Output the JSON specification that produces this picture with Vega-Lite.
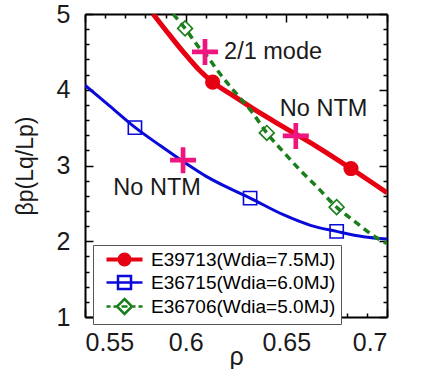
{
  "$schema": "https://vega.github.io/schema/vega-lite/v6.json",
  "width": 302,
  "height": 303,
  "autosize": {"type": "none"},
  "padding": {"left": 85, "top": 14, "right": 35, "bottom": 52},
  "background": "white",
  "config": {
    "view": {"stroke": null},
    "font": "Liberation Sans",
    "axis": {"grid": false, "domainColor": "black", "domainWidth": 2, "tickColor": "black", "tickWidth": 1.5, "labelFont": "Liberation Sans", "labelColor": "#1a1a1a", "titleFont": "Liberation Sans", "titleColor": "#1a1a1a", "titleFontWeight": "normal"},
    "legend": {
      "orient": "none", "legendX": 8, "legendY": 231, "title": null, "direction": "vertical",
      "padding": 5, "strokeColor": "#555", "fillColor": "white",
      "labelFont": "Liberation Sans", "labelFontSize": 19, "labelLimit": 400, "labelOffset": 17, "symbolOffset": 17,
      "symbolSize": 100, "symbolOpacity": 1, "symbolStrokeWidth": 2.5, "rowPadding": 0
    }
  },
  "datasets": {
    "curves": [
      {"series": "E39713(Wdia=7.5MJ)", "rho": 0.5838, "beta": 5.0},
      {"series": "E39713(Wdia=7.5MJ)", "rho": 0.5906, "beta": 4.77},
      {"series": "E39713(Wdia=7.5MJ)", "rho": 0.5988, "beta": 4.50},
      {"series": "E39713(Wdia=7.5MJ)", "rho": 0.6071, "beta": 4.25},
      {"series": "E39713(Wdia=7.5MJ)", "rho": 0.6134, "beta": 4.10},
      {"series": "E39713(Wdia=7.5MJ)", "rho": 0.6237, "beta": 3.92},
      {"series": "E39713(Wdia=7.5MJ)", "rho": 0.6353, "beta": 3.72},
      {"series": "E39713(Wdia=7.5MJ)", "rho": 0.6485, "beta": 3.51},
      {"series": "E39713(Wdia=7.5MJ)", "rho": 0.6651, "beta": 3.25},
      {"series": "E39713(Wdia=7.5MJ)", "rho": 0.6821, "beta": 2.96},
      {"series": "E39713(Wdia=7.5MJ)", "rho": 0.70, "beta": 2.64},
      {"series": "E36715(Wdia=6.0MJ)", "rho": 0.55, "beta": 4.06},
      {"series": "E36715(Wdia=6.0MJ)", "rho": 0.5625, "beta": 3.78},
      {"series": "E36715(Wdia=6.0MJ)", "rho": 0.575, "beta": 3.50},
      {"series": "E36715(Wdia=6.0MJ)", "rho": 0.5875, "beta": 3.26},
      {"series": "E36715(Wdia=6.0MJ)", "rho": 0.60, "beta": 3.03},
      {"series": "E36715(Wdia=6.0MJ)", "rho": 0.61, "beta": 2.86},
      {"series": "E36715(Wdia=6.0MJ)", "rho": 0.62, "beta": 2.72},
      {"series": "E36715(Wdia=6.0MJ)", "rho": 0.632, "beta": 2.57},
      {"series": "E36715(Wdia=6.0MJ)", "rho": 0.6485, "beta": 2.35},
      {"series": "E36715(Wdia=6.0MJ)", "rho": 0.662, "beta": 2.21},
      {"series": "E36715(Wdia=6.0MJ)", "rho": 0.675, "beta": 2.13},
      {"series": "E36715(Wdia=6.0MJ)", "rho": 0.6883, "beta": 2.06},
      {"series": "E36715(Wdia=6.0MJ)", "rho": 0.70, "beta": 2.03},
      {"series": "E36706(Wdia=5.0MJ)", "rho": 0.5938, "beta": 5.0},
      {"series": "E36706(Wdia=5.0MJ)", "rho": 0.5997, "beta": 4.81},
      {"series": "E36706(Wdia=5.0MJ)", "rho": 0.6063, "beta": 4.57},
      {"series": "E36706(Wdia=5.0MJ)", "rho": 0.6113, "beta": 4.42},
      {"series": "E36706(Wdia=5.0MJ)", "rho": 0.6162, "beta": 4.24},
      {"series": "E36706(Wdia=5.0MJ)", "rho": 0.627, "beta": 3.89},
      {"series": "E36706(Wdia=5.0MJ)", "rho": 0.6328, "beta": 3.71},
      {"series": "E36706(Wdia=5.0MJ)", "rho": 0.6403, "beta": 3.43},
      {"series": "E36706(Wdia=5.0MJ)", "rho": 0.6485, "beta": 3.18},
      {"series": "E36706(Wdia=5.0MJ)", "rho": 0.6568, "beta": 2.94},
      {"series": "E36706(Wdia=5.0MJ)", "rho": 0.6651, "beta": 2.72},
      {"series": "E36706(Wdia=5.0MJ)", "rho": 0.675, "beta": 2.45},
      {"series": "E36706(Wdia=5.0MJ)", "rho": 0.685, "beta": 2.24},
      {"series": "E36706(Wdia=5.0MJ)", "rho": 0.694, "beta": 2.06},
      {"series": "E36706(Wdia=5.0MJ)", "rho": 0.70, "beta": 1.97}
    ],
    "markers": [
      {"series": "E39713(Wdia=7.5MJ)", "rho": 0.6134, "beta": 4.10},
      {"series": "E39713(Wdia=7.5MJ)", "rho": 0.6821, "beta": 2.96},
      {"series": "E36715(Wdia=6.0MJ)", "rho": 0.5748, "beta": 3.50},
      {"series": "E36715(Wdia=6.0MJ)", "rho": 0.632, "beta": 2.57},
      {"series": "E36715(Wdia=6.0MJ)", "rho": 0.675, "beta": 2.13},
      {"series": "E36706(Wdia=5.0MJ)", "rho": 0.5997, "beta": 4.81},
      {"series": "E36706(Wdia=5.0MJ)", "rho": 0.6403, "beta": 3.43},
      {"series": "E36706(Wdia=5.0MJ)", "rho": 0.675, "beta": 2.45}
    ],
    "crosses": [
      {"rho": 0.6096, "beta": 4.50},
      {"rho": 0.6547, "beta": 3.39},
      {"rho": 0.5987, "beta": 3.07}
    ],
    "notes": [
      {"rho": 0.6434, "beta": 4.50, "label": "2/1 mode"},
      {"rho": 0.6685, "beta": 3.75, "label": "No NTM"},
      {"rho": 0.5858, "beta": 2.70, "label": "No NTM"}
    ]
  },
  "resolve": {"axis": {"x": "independent", "y": "independent"}},
  "layer": [
    {
      "data": {"name": "curves"},
      "transform": [{"filter": "datum.series === 'E39713(Wdia=7.5MJ)'"}],
      "mark": {"type": "line", "interpolate": "monotone", "clip": true, "strokeWidth": 5, "color": "#e60012"},
      "encoding": {
        "x": {"field": "rho", "type": "quantitative", "scale": {"domain": [0.55, 0.7], "nice": false, "zero": false},
          "axis": {"orient": "bottom", "title": "ρ", "titleFontSize": 25, "titleY": 27, "titleBaseline": "top", "labelFontSize": 25, "labelPadding": 21,
            "values": [0.55,0.56,0.57,0.58,0.59,0.6,0.61,0.62,0.63,0.64,0.65,0.66,0.67,0.68,0.69,0.7],
            "labelExpr": "abs(datum.value*20-round(datum.value*20))<0.001 ? format(datum.value, '~g') : ''",
            "tickSize": {"condition": {"test": "abs(datum.value*20-round(datum.value*20))<0.001", "value": -8}, "value": -4}}},
        "y": {"field": "beta", "type": "quantitative", "scale": {"domain": [1, 5], "nice": false, "zero": false},
          "axis": {"orient": "left", "title": "βp(Lq/Lp)", "titleFontSize": 23, "titleX": -48, "titleBaseline": "bottom", "labelFontSize": 25, "labelPadding": 23,
            "values": [1,1.2,1.4,1.6,1.8,2,2.2,2.4,2.6,2.8,3,3.2,3.4,3.6,3.8,4,4.2,4.4,4.6,4.8,5],
            "labelExpr": "abs(datum.value-round(datum.value))<0.001 ? format(datum.value, 'd') : ''",
            "tickSize": {"condition": {"test": "abs(datum.value-round(datum.value))<0.001", "value": -8}, "value": -4}}}
      }
    },
    {
      "data": {"name": "curves"},
      "transform": [{"filter": "datum.series === 'E36715(Wdia=6.0MJ)'"}],
      "mark": {"type": "line", "interpolate": "monotone", "clip": true, "strokeWidth": 3, "color": "#0a0ad8"},
      "encoding": {
        "x": {"field": "rho", "type": "quantitative", "axis": null},
        "y": {"field": "beta", "type": "quantitative", "axis": null}
      }
    },
    {
      "data": {"name": "curves"},
      "transform": [{"filter": "datum.series === 'E36706(Wdia=5.0MJ)'"}],
      "mark": {"type": "line", "interpolate": "monotone", "clip": true, "strokeWidth": 3.5, "strokeDash": [7, 5], "color": "#1a7f1a"},
      "encoding": {
        "x": {"field": "rho", "type": "quantitative", "axis": null},
        "y": {"field": "beta", "type": "quantitative", "axis": null}
      }
    },
    {
      "data": {"name": "markers"},
      "transform": [{"filter": "datum.series === 'E39713(Wdia=7.5MJ)'"}],
      "mark": {"type": "point", "shape": "circle", "filled": true, "size": 230, "opacity": 1, "color": "#e60012"},
      "encoding": {
        "x": {"field": "rho", "type": "quantitative",
          "axis": {"orient": "top", "title": null, "labels": false,
            "values": [0.55,0.56,0.57,0.58,0.59,0.6,0.61,0.62,0.63,0.64,0.65,0.66,0.67,0.68,0.69,0.7],
            "tickSize": {"condition": {"test": "abs(datum.value*20-round(datum.value*20))<0.001", "value": -8}, "value": -4}}},
        "y": {"field": "beta", "type": "quantitative",
          "axis": {"orient": "right", "title": null, "labels": false,
            "values": [1,1.2,1.4,1.6,1.8,2,2.2,2.4,2.6,2.8,3,3.2,3.4,3.6,3.8,4,4.2,4.4,4.6,4.8,5],
            "tickSize": {"condition": {"test": "abs(datum.value-round(datum.value))<0.001", "value": -8}, "value": -4}}}
      }
    },
    {
      "data": {"name": "markers"},
      "transform": [{"filter": "datum.series === 'E36715(Wdia=6.0MJ)'"}],
      "mark": {"type": "point", "shape": "square", "filled": false, "size": 175, "strokeWidth": 1.6, "opacity": 1, "color": "#0a0ad8"},
      "encoding": {
        "x": {"field": "rho", "type": "quantitative", "axis": null},
        "y": {"field": "beta", "type": "quantitative", "axis": null}
      }
    },
    {
      "data": {"name": "markers"},
      "transform": [{"filter": "datum.series === 'E36706(Wdia=5.0MJ)'"}],
      "mark": {"type": "point", "shape": "diamond", "filled": false, "size": 220, "strokeWidth": 1.6, "opacity": 1, "color": "#1a7f1a"},
      "encoding": {
        "x": {"field": "rho", "type": "quantitative", "axis": null},
        "y": {"field": "beta", "type": "quantitative", "axis": null}
      }
    },
    {
      "data": {"name": "crosses"},
      "mark": {"type": "point", "shape": "M-1,-0.18H1V0.18H-1ZM-0.18,-1H0.18V1H-0.18Z", "size": 676, "filled": true, "fill": "#f0147f", "strokeWidth": 0, "opacity": 1},
      "encoding": {
        "x": {"field": "rho", "type": "quantitative", "axis": null},
        "y": {"field": "beta", "type": "quantitative", "axis": null}
      }
    },
    {
      "data": {"name": "notes"},
      "mark": {"type": "text", "font": "Liberation Sans", "fontSize": 23.5, "color": "#1a1a1a", "align": "center", "baseline": "middle"},
      "encoding": {
        "x": {"field": "rho", "type": "quantitative", "axis": null},
        "y": {"field": "beta", "type": "quantitative", "axis": null},
        "text": {"field": "label", "type": "nominal"}
      }
    },
    {
      "data": {"name": "markers"},
      "transform": [{"filter": "datum.beta > 100"}],
      "mark": {"type": "point", "filled": false, "opacity": 1, "strokeWidth": 2.5},
      "encoding": {
        "x": {"field": "rho", "type": "quantitative", "axis": null},
        "y": {"field": "beta", "type": "quantitative", "axis": null},
        "color": {"field": "series", "type": "nominal",
          "scale": {"domain": ["E39713(Wdia=7.5MJ)", "E36715(Wdia=6.0MJ)", "E36706(Wdia=5.0MJ)"], "range": ["#e60012", "#0a0ad8", "#1a7f1a"]},
          "legend": {"encode": {"labels": {"update": {"fill": {"signal": "datum.index === 0 ? '#e60012' : datum.index === 1 ? '#0a0ad8' : '#1a7f1a'"}}}}}},
        "shape": {"field": "series", "type": "nominal",
          "scale": {"domain": ["E39713(Wdia=7.5MJ)", "E36715(Wdia=6.0MJ)", "E36706(Wdia=5.0MJ)"],
            "range": ["M-3.6,-0.15H3.6M-3.6,0.15H3.6M1.15,0A1.15,1.15,0,1,1,-1.15,0A1.15,1.15,0,1,1,1.15,0M0.65,0A0.65,0.65,0,1,1,-0.65,0A0.65,0.65,0,1,1,0.65,0M0.2,0A0.2,0.2,0,1,1,-0.2,0A0.2,0.2,0,1,1,0.2,0", "M-3.6,0H3.6M-1.3,-1.3H1.3V1.3H-1.3Z", "M-3.6,0H-2.8M-2.2,0H-1.5M-0.6,0H0.6M1.5,0H2.2M2.8,0H3.6M0,-1.5L1.5,0L0,1.5L-1.5,0Z"]},
          "legend": null}
      }
    }
  ]
}
